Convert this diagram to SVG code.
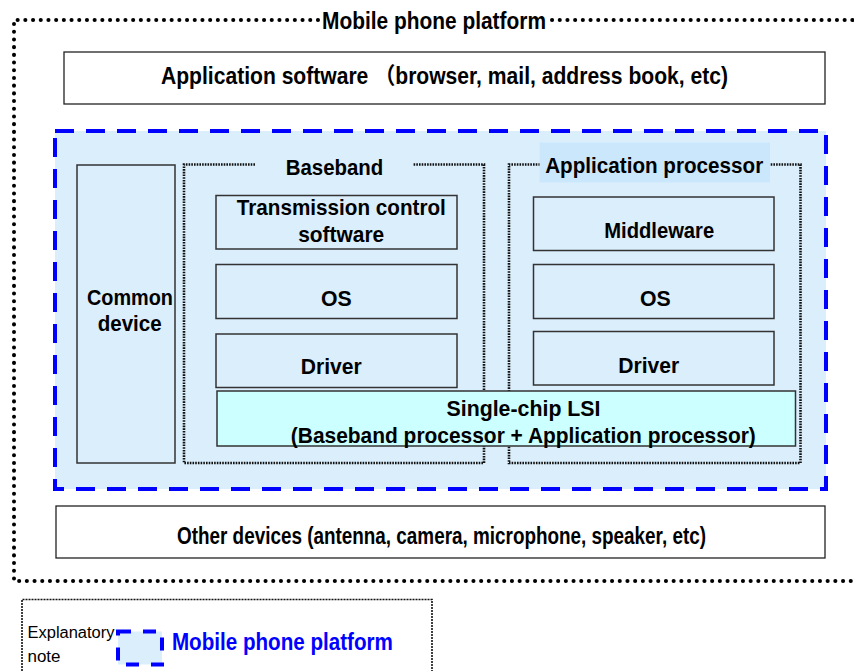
<svg xmlns="http://www.w3.org/2000/svg" width="854" height="671" viewBox="0 0 854 671">
<style>
.t{font-family:"Liberation Sans","Noto Sans CJK JP",Arial,sans-serif;font-weight:bold;font-size:22px;fill:#000;text-anchor:middle;dominant-baseline:central}
.c{font-size:23px}
.box{fill:#daeefc;stroke:#333;stroke-width:1.5}
.wbox{fill:#fff;stroke:#222;stroke-width:1.3}
.dot{fill:none;stroke:#111;stroke-width:2.6;stroke-dasharray:1.6 1.1}
.outer{fill:none;stroke:#000;stroke-width:4;stroke-linecap:round;stroke-dasharray:0.1 7.6}
.blue{stroke:#0000ff;stroke-width:4;stroke-dasharray:19 12;fill:#daeefc}
</style>
<rect width="854" height="671" fill="#fff"/>
<g id="outer-platform">
<path class="outer" d="M318 20 H14 V581 H860"/>
<path class="outer" d="M552 20 H860"/>
<text class="t c" x="434" y="21" textLength="224" lengthAdjust="spacingAndGlyphs">Mobile phone platform</text>
</g>
<g id="app-software">
<rect class="wbox" x="64" y="52" width="761" height="52"/>
<text class="t c" x="444.5" y="76" textLength="567" lengthAdjust="spacingAndGlyphs">Application software （browser, mail, address book, etc)</text>
</g>
<g id="platform">
<rect class="blue" x="55" y="131" width="771" height="358"/>
</g>
<g id="common-device">
<rect class="box" x="77" y="165" width="98" height="298"/>
<text class="t" x="130" y="297" textLength="86" lengthAdjust="spacingAndGlyphs">Common</text>
<text class="t" x="129.7" y="323.5" textLength="64" lengthAdjust="spacingAndGlyphs">device</text>
</g>
<g id="baseband">
<path class="dot" d="M255 164.5 H184 V463 H484 V164.5 H413"/>
<text class="t" x="334.5" y="167" textLength="97.6" lengthAdjust="spacingAndGlyphs">Baseband</text>
</g>
<g id="app-processor">
<path class="dot" d="M540 164.5 H509 V463 H800.5 V164.5 H770"/>
<rect x="539.5" y="142.5" width="230.5" height="40" fill="#cbe7fb"/>
<text class="t" x="654.2" y="165" textLength="218" lengthAdjust="spacingAndGlyphs">Application processor</text>
</g>
<g id="bb-tcs">
<rect class="box" x="216" y="195.5" width="241" height="53.5"/>
<text class="t" x="341.3" y="207" textLength="209" lengthAdjust="spacingAndGlyphs">Transmission control</text>
<text class="t" x="341.2" y="234" textLength="86" lengthAdjust="spacingAndGlyphs">software</text>
</g>
<g id="bb-os">
<rect class="box" x="216" y="264.5" width="241" height="54"/>
<text class="t" x="336.3" y="298" textLength="30.7" lengthAdjust="spacingAndGlyphs">OS</text>
</g>
<g id="bb-driver">
<rect class="box" x="216" y="334" width="241" height="53.5"/>
<text class="t" x="331.2" y="366.7" textLength="61" lengthAdjust="spacingAndGlyphs">Driver</text>
</g>
<g id="ap-middleware">
<rect class="box" x="533.5" y="197" width="240.5" height="53.5"/>
<text class="t" x="659.2" y="230" textLength="110" lengthAdjust="spacingAndGlyphs">Middleware</text>
</g>
<g id="ap-os">
<rect class="box" x="533.5" y="264.5" width="240.5" height="54"/>
<text class="t" x="655.3" y="298" textLength="30.7" lengthAdjust="spacingAndGlyphs">OS</text>
</g>
<g id="ap-driver">
<rect class="box" x="533.5" y="331.5" width="240.5" height="53.5"/>
<text class="t" x="648.8" y="365" textLength="61" lengthAdjust="spacingAndGlyphs">Driver</text>
</g>
<g id="lsi">
<rect x="217" y="391" width="578.5" height="55" fill="#ccffff" stroke="#333" stroke-width="1.5"/>
<text class="t" x="523.5" y="408.5" textLength="154" lengthAdjust="spacingAndGlyphs">Single-chip LSI</text>
<text class="t" x="523.3" y="435" textLength="465" lengthAdjust="spacingAndGlyphs">(Baseband processor + Application processor)</text>
</g>
<g id="other-devices">
<rect class="wbox" x="56" y="506" width="769" height="52"/>
<text class="t c" x="441.5" y="536" textLength="529" lengthAdjust="spacingAndGlyphs">Other devices (antenna, camera, microphone, speaker, etc)</text>
</g>
<g id="legend">
<path d="M22 680 V599.5 H432 V680" fill="none" stroke="#111" stroke-width="1.6" stroke-dasharray="2 1"/>
<text x="27.5" y="638" font-family="Liberation Sans, Arial, sans-serif" font-size="16" fill="#000" textLength="87" lengthAdjust="spacingAndGlyphs">Explanatory</text>
<text x="27.5" y="661.5" font-family="Liberation Sans, Arial, sans-serif" font-size="16" fill="#000" textLength="33" lengthAdjust="spacingAndGlyphs">note</text>
<rect x="118" y="631.5" width="44" height="33" fill="#daeefc" stroke="#0000ff" stroke-width="4" stroke-dasharray="13 12"/>
<text class="t c" x="282.4" y="641.7" style="fill:#0000ff" textLength="221" lengthAdjust="spacingAndGlyphs">Mobile phone platform</text>
</g>
</svg>
